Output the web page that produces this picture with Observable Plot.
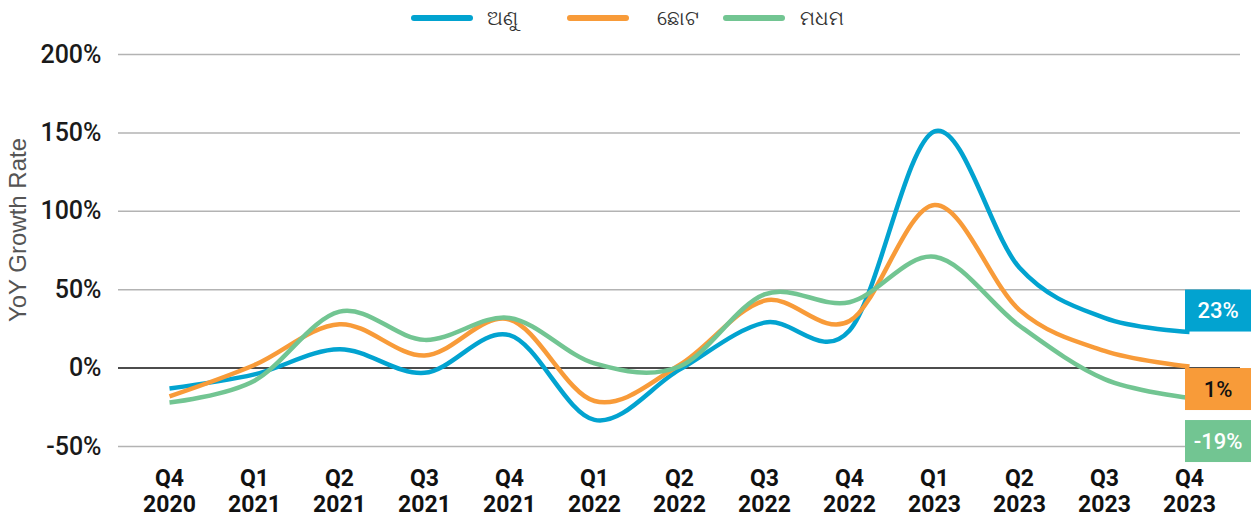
<!DOCTYPE html>
<html><head><meta charset="utf-8">
<script src="https://cdn.jsdelivr.net/npm/d3@7"></script>
<script src="https://cdn.jsdelivr.net/npm/@observablehq/plot@0.6"></script>
<style>
body{margin:0;background:#fff;font-family:Roboto, "Noto Sans", sans-serif;}
#legend{height:36px;display:flex;align-items:center;padding-left:411px;box-sizing:border-box;}
.item{display:flex;align-items:center;width:156px;}
.sw{width:62px;height:6px;border-radius:3px;}
.lab{font-size:20px;color:#333;}
</style></head><body>
<div id="legend"></div><div id="chart"></div>
<script>
const quarters = ["Q4\n2020","Q1\n2021","Q2\n2021","Q3\n2021","Q4\n2021","Q1\n2022","Q2\n2022","Q3\n2022","Q4\n2022","Q1\n2023","Q2\n2023","Q3\n2023","Q4\n2023"];
const seriesNames = ["ଅଣୁ","ଛୋଟ","ମଧମ"];
const micro  = [-13, -4, 12, -3, 21, -33, -1, 29, 24, 151, 64, 32, 23];
const small  = [-18,  2, 28,  8, 31, -21,  2, 43, 30, 104, 37, 11, 1];
const medium = [-22, -8, 36, 18, 32,   3,  1, 47, 42,  71, 27, -7, -19];
const colors = ["#02A3D0","#F89B39","#72C592"];
const yTicks = [-50, 0, 50, 100, 150, 200];
const yTitle = "YoY Growth Rate";

const seriesValues = [micro, small, medium];
const data = seriesNames.flatMap((s, i) => quarters.map((q, j) => ({series: s, quarter: q, value: seriesValues[i][j]})));

// legend
const legend = document.getElementById("legend");
const labGaps = [14, 28, 15];
seriesNames.forEach((s, i) => {
  const it = document.createElement("div"); it.className = "item";
  it.innerHTML = `<div class="sw" style="background:${colors[i]}"></div><span class="lab" style="margin-left:${labGaps[i]}px">${s}</span>`;
  legend.appendChild(it);
});

const chart = Plot.plot({
  width: 1251, height: 482,
  marginTop: 18, marginBottom: 72, marginLeft: 118, marginRight: 11,
  style: {fontFamily: "Roboto, sans-serif", background: "#fff", overflow: "visible"},
  x: {type: "point", domain: quarters, padding: 0.55},
  y: {domain: [-50, 200]},
  color: {domain: seriesNames, range: colors},
  marks: [
    Plot.ruleY(yTicks.filter(d => d !== 0), {stroke: "#b3b3b3", strokeWidth: 1.5}),
    Plot.ruleY([0], {stroke: "#111", strokeWidth: 1.5}),
    Plot.axisY({ticks: yTicks, tickSize: 0, tickPadding: 17, tickFormat: d => d + "%", fontSize: 25, fontWeight: 500, fill: "#1a1a1a", label: null}),
    Plot.axisX({tickSize: 0, tickPadding: 21, fontSize: 23, fontWeight: 700, fill: "#111", lineHeight: 1.12, label: null}),
    Plot.line(data, {x: "quarter", y: "value", stroke: "series", z: "series", curve: "cardinal", strokeWidth: 4.5, strokeLinecap: "butt"})
  ]
});
document.getElementById("chart").appendChild(chart);

const ys = chart.scale("y");
const svg = d3.select(chart);

// y-axis title
const yMid = (ys.apply(yTicks[0]) + ys.apply(yTicks[yTicks.length - 1])) / 2 - 20;
svg.append("text").attr("transform", `translate(18,${yMid}) rotate(-90)`).attr("text-anchor", "middle").attr("dy", "0.35em")
  .attr("font-family", "'Liberation Sans', Arial, sans-serif").attr("font-size", 24).attr("fill", "#555").text(yTitle);

// end-value boxes
const bw = 66, bh = 42, W = 1251;
const lastVals = seriesValues.map(a => a[a.length - 1]);
const tops = [];
tops[0] = ys.apply(lastVals[0]) - bh;
tops[1] = ys.apply(lastVals[1]) + 2;
tops[2] = tops[1] + bh + 10;
const textFill = ["#fff", "#111", "#fff"];
const g = svg.append("g");
lastVals.forEach((v, i) => {
  g.append("rect").attr("x", W - bw).attr("y", tops[i]).attr("width", bw).attr("height", bh).attr("fill", colors[i]);
  g.append("text").attr("x", W - bw / 2).attr("y", tops[i] + bh / 2).attr("text-anchor", "middle").attr("dy", "0.35em")
    .attr("font-size", 22).attr("font-weight", 500).attr("fill", textFill[i]).text(v + "%");
});
</script>
</body></html>
